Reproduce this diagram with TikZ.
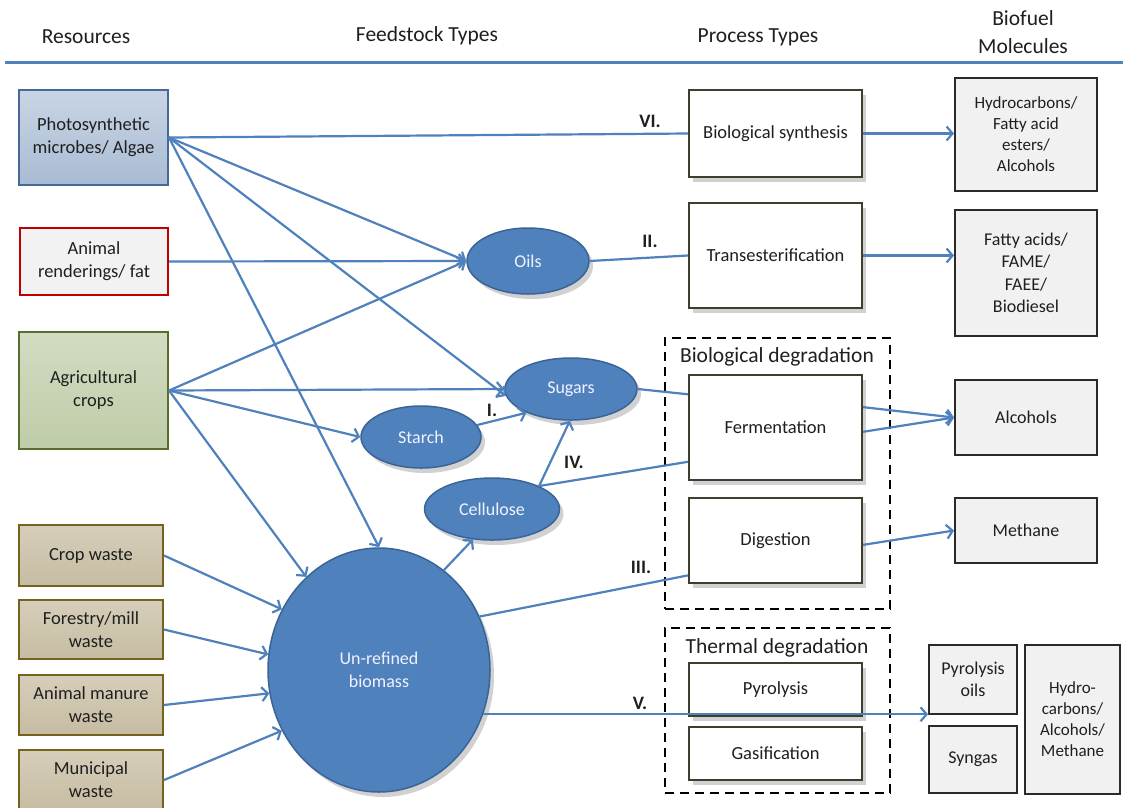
\documentclass[tikz,border=0pt]{standalone}
\usepackage{fontspec}
\setmainfont{Carlito}
\usetikzlibrary{arrows.meta,calc,shadows,shapes.geometric}
\definecolor{arr}{HTML}{4F81BD}
\definecolor{ellfill}{HTML}{4F81BD}
\definecolor{elldraw}{HTML}{3A6496}
\definecolor{algtop}{HTML}{C9D5E4}
\definecolor{algbot}{HTML}{A9BBD3}
\definecolor{algdraw}{HTML}{46699A}
\definecolor{agtop}{HTML}{D2DCC2}
\definecolor{agbot}{HTML}{BFCCA8}
\definecolor{agdraw}{HTML}{5A6E2C}
\definecolor{wtop}{HTML}{D6CEBA}
\definecolor{wbot}{HTML}{C6BCA2}
\definecolor{wdraw}{HTML}{76621F}
\definecolor{procdraw}{HTML}{3E3E2E}
\definecolor{moldraw}{HTML}{2A2A2A}
\definecolor{molfill}{HTML}{F1F1F1}
\definecolor{redb}{HTML}{C00000}
\tikzset{
  txt/.style={font=\fontsize{18.5}{23}\selectfont, text=black!88},
  res/.style={txt, draw, line width=2pt, align=center, inner sep=1pt},
  waste/.style={top color=wtop, bottom color=wbot, draw=wdraw},
  ell/.style={ellipse, draw=elldraw, fill=ellfill, line width=1.5pt, inner sep=0pt,
    align=center, text=white!95!blue, font=\fontsize{18}{23}\selectfont,
    drop shadow={shadow xshift=4pt, shadow yshift=-5pt, opacity=0.18, fill=black}},
  proc/.style={txt, draw=procdraw, fill=white, line width=2.2pt, align=center, inner sep=1pt,
    drop shadow={shadow xshift=4pt, shadow yshift=-5pt, opacity=0.18, fill=black}},
  mol/.style={draw=moldraw, fill=molfill, line width=2pt, align=center, inner sep=1pt,
    font=\fontsize{18}{22.5}\selectfont, text=black!88},
  group/.style={draw=black, line width=2.4pt, dash pattern=on 9pt off 6pt},
  hdr/.style={font=\fontsize{21.5}{28}\selectfont, text=black!88, align=center},
  gtitle/.style={font=\fontsize{21.5}{24}\selectfont, text=black!88},
  conn/.style={draw=arr, line width=2.2pt},
  arrow/.style={conn, -{Straight Barb[length=6pt,width=14pt]}},
  lab/.style={font=\bfseries\fontsize{19}{20}\selectfont, text=black!88},
}
\begin{document}
\begin{tikzpicture}[x=1pt,y=-1pt]
\path[use as bounding box, fill=white] (0,0) rectangle (1123,807);

% headers
\node[hdr] (h1) at (86,37) {Resources};
\node[hdr] (h2) at (427,36) {Feedstock Types};
\node[hdr] (h3) at (758,37) {Process Types};
\node[hdr] (h4) at (1023,32) {Biofuel\\Molecules};
\coordinate (hl) at (5,62);
\coordinate (hr) at (1123,62);
\draw[arr, line width=3pt] (hl) -- (hr);

% resources
\node[res, top color=algtop, bottom color=algbot, draw=algdraw, minimum width=149, minimum height=95] (algae) at (93.5,137.5) {Photosynthetic\\microbes/ Algae};
\node[res, fill=black!5, draw=redb, minimum width=148, minimum height=67] (animal) at (94,261.5) {Animal\\renderings/ fat};
\node[res, top color=agtop, bottom color=agbot, draw=agdraw, minimum width=149, minimum height=117] (agri) at (93.5,390.5) {Agricultural\\crops};
\node[res, waste, minimum width=144, minimum height=61] (cropw) at (91,555.5) {Crop waste};
\node[res, waste, minimum width=144, minimum height=59] (forest) at (91,629.5) {Forestry/mill\\waste};
\node[res, waste, minimum width=144, minimum height=60] (manure) at (91,705) {Animal manure\\waste};
\node[res, waste, minimum width=144, minimum height=60] (munic) at (91,780) {Municipal\\waste};

% groups
\node[group, minimum width=225, minimum height=271] (biodeg) at (777.5,473.5) {};
\node[gtitle] (biodegt) at (777,357) {Biological degradation};
\node[group, minimum width=225, minimum height=165] (thermdeg) at (777.5,710.5) {};
\node[gtitle] (thermt) at (777,648) {Thermal degradation};

% feedstocks
\node[ell, minimum width=122, minimum height=66] (oils) at (528,261) {Oils};
\node[ell, minimum width=132, minimum height=62] (sugars) at (571,389) {Sugars};
\node[ell, minimum width=120, minimum height=62] (starch) at (421,437) {Starch};
\node[ell, minimum width=135, minimum height=62] (cellulose) at (492,509) {Cellulose};
\node[ell, minimum width=222, minimum height=244] (biomass) at (379,670) {Un-refined\\biomass};

% processes
\node[proc, minimum width=173, minimum height=87] (biosyn) at (775.5,133.5) {Biological synthesis};
\node[proc, minimum width=173, minimum height=105] (trans) at (775.5,255.5) {Transesterification};
\node[proc, minimum width=173, minimum height=105] (ferm) at (775.5,427.5) {Fermentation};
\node[proc, minimum width=173, minimum height=85] (dig) at (775.5,540.5) {Digestion};
\node[proc, minimum width=173, minimum height=53] (pyro) at (775.5,689.5) {Pyrolysis};
\node[proc, minimum width=173, minimum height=53] (gasi) at (775.5,753.5) {Gasification};

% molecules
\node[mol, minimum width=142, minimum height=113, font=\fontsize{17}{21}\selectfont] (hydro) at (1026,134.5) {Hydrocarbons/\\Fatty acid\\esters/\\Alcohols};
\node[mol, minimum width=142, minimum height=126] (fatty) at (1026,273) {Fatty acids/\\FAME/\\FAEE/\\Biodiesel};
\node[mol, minimum width=142, minimum height=75] (alc) at (1026,417.5) {Alcohols};
\node[mol, minimum width=142, minimum height=65] (meth) at (1026,530.5) {Methane};
\node[mol, minimum width=88, minimum height=69] (pyoil) at (973,679.5) {Pyrolysis\\oils};
\node[mol, minimum width=88, minimum height=67] (syngas) at (973,759.5) {Syngas};
\node[mol, minimum width=95, minimum height=149, font=\fontsize{17}{21}\selectfont] (hcam) at (1072.5,719.5) {Hydro-\\carbons/\\Alcohols/\\Methane};

% connectors from algae
\draw[conn] (algae.east) -- (biosyn.west);
\draw[arrow] (algae.east) -- (oils.west);
\draw[arrow] (algae.east) -- (sugars.186);
\draw[arrow] (algae.east) -- (biomass.north);
% animal
\draw[arrow] (animal.east) -- (oils.west);
% agri
\draw[arrow] (agri.east) -- (oils.west);
\draw[arrow] (agri.east) -- (sugars.west);
\draw[arrow] (agri.east) -- (starch.west);
\draw[arrow] (agri.east) -- (biomass.128);
% wastes
\draw[arrow] (cropw.east) -- (biomass.148);
\draw[arrow] (forest.east) -- (biomass.172);
\draw[arrow] (manure.east) -- (biomass.192);
\draw[arrow] (munic.east) -- (biomass.212);
% feedstock links
\draw[arrow] (starch.12) -- (sugars.208);
\draw[arrow] (cellulose.26) -- (sugars.268);
\draw[arrow] (biomass.57) -- (cellulose.238);
\draw[conn] (oils.east) -- (trans.west);
\draw[conn] (sugars.east) -- ($(ferm.north west)!0.19!(ferm.south west)$);
\draw[conn] (cellulose.26) -- ($(ferm.north west)!0.82!(ferm.south west)$);
\draw[conn] (biomass.28) -- ($(dig.north west)!0.9!(dig.south west)$);
\draw[arrow] (biomass.-23) -- (biomass.-23 -| pyoil.west);
% process outputs
\draw[arrow] (biosyn.east) -- (biosyn.east -| hydro.west);
\draw[arrow] (trans.east) -- (trans.east -| fatty.west);
\draw[arrow] ($(ferm.north east)!0.31!(ferm.south east)$) -- (alc.west);
\draw[arrow] ($(ferm.north east)!0.54!(ferm.south east)$) -- (alc.west);
\draw[arrow] ($(dig.north east)!0.55!(dig.south east)$) -- (meth.west);

% labels
\node[lab] (l6) at (650,121) {VI.};
\node[lab] (l2) at (650,241) {II.};
\node[lab] (l1) at (492,410) {I.};
\node[lab] (l4) at (574,462) {IV.};
\node[lab] (l3) at (641,567) {III.};
\node[lab] (l5) at (640,703) {V.};
\end{tikzpicture}
\end{document}
